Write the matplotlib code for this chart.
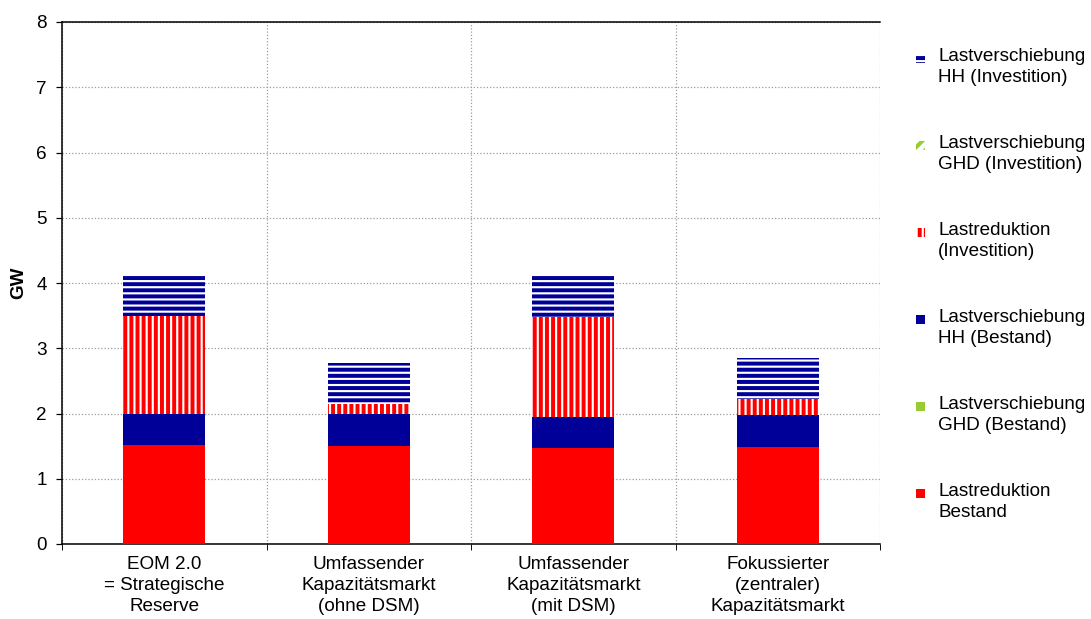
import matplotlib
matplotlib.use("Agg")
import matplotlib.pyplot as plt
from matplotlib.patches import Rectangle

plt.rcParams["font.family"] = ["Liberation Sans", "DejaVu Sans"]
plt.rcParams["hatch.linewidth"] = 2.6

categories = [
    "EOM 2.0\n= Strategische\nReserve",
    "Umfassender\nKapazitätsmarkt\n(ohne DSM)",
    "Umfassender\nKapazitätsmarkt\n(mit DSM)",
    "Fokussierter\n(zentraler)\nKapazitätsmarkt",
]

# GW per scenario, stacked bottom to top
lastreduktion_bestand = [1.51, 1.50, 1.47, 1.48]
lv_ghd_bestand = [0.0, 0.0, 0.0, 0.0]
lv_hh_bestand = [0.48, 0.49, 0.48, 0.49]
lastreduktion_invest = [1.51, 0.15, 1.53, 0.25]
lv_ghd_invest = [0.0, 0.0, 0.0, 0.0]
lv_hh_invest = [0.64, 0.64, 0.64, 0.63]

red = "#FF0000"
navy = "#000099"
green = "#99CC33"

series = [
    ("Lastreduktion\nBestand", lastreduktion_bestand, red, None),
    ("Lastverschiebung\nGHD (Bestand)", lv_ghd_bestand, green, None),
    ("Lastverschiebung\nHH (Bestand)", lv_hh_bestand, navy, None),
    ("Lastreduktion\n(Investition)", lastreduktion_invest, red, "|||"),
    ("Lastverschiebung\nGHD (Investition)", lv_ghd_invest, green, "///"),
    ("Lastverschiebung\nHH (Investition)", lv_hh_invest, navy, "---"),
]

W, H, DPI = 1091, 619, 110
fig = plt.figure(figsize=(W / DPI, H / DPI), dpi=DPI)
ax = fig.add_axes([62 / W, 1 - 544 / H, 818 / W, 522 / H])

x = list(range(len(categories)))
bottom = [0.0] * len(categories)
for label, vals, color, hatch in series:
    if hatch is None:
        ax.bar(x, vals, 0.4, bottom=bottom, color=color, linewidth=0, zorder=3)
    else:
        ax.bar(x, vals, 0.4, bottom=bottom, facecolor="white", edgecolor=color,
               hatch=hatch, linewidth=0, zorder=3)
    bottom = [b + v for b, v in zip(bottom, vals)]

fs = 12.4
ax.set_xlim(-0.5, 3.5)
ax.set_ylim(0, 8)
ax.set_yticks(range(0, 9))
ax.set_xticks(x)
ax.set_xticklabels(categories, fontsize=fs, linespacing=1.3)
ax.set_xticks([-0.5, 0.5, 1.5, 2.5, 3.5], minor=True)
ax.tick_params(axis="x", which="major", length=0, pad=8)
ax.tick_params(axis="x", which="minor", length=4, direction="out")
ax.tick_params(axis="y", length=4, direction="out", labelsize=fs, pad=6)
ax.grid(axis="y", which="major", color="#999999", linestyle=":", linewidth=0.8, zorder=0)
ax.grid(axis="x", which="minor", color="#999999", linestyle=":", linewidth=0.8, zorder=0)
ax.spines["right"].set_visible(False)
for s in ["left", "bottom", "top"]:
    ax.spines[s].set_linewidth(1.0)
ax.set_ylabel("GW", fontsize=fs, fontweight="bold", labelpad=6)


def px(xp, yp):
    return xp / W, 1 - yp / H


# legend drawn at the right, newest series on top
for i, (label, vals, color, hatch) in enumerate(reversed(series)):
    ytop = 48 + 87 * i
    rx, ry = px(916, ytop + 15)
    if hatch is None:
        rect = Rectangle((rx, ry), 9 / W, 9 / H, transform=fig.transFigure,
                         facecolor=color, linewidth=0)
    else:
        rect = Rectangle((rx, ry), 9 / W, 9 / H, transform=fig.transFigure,
                         facecolor="white", edgecolor=color, hatch=hatch, linewidth=0)
    fig.add_artist(rect)
    tx, ty = px(938, ytop)
    fig.text(tx, ty, label, fontsize=fs, va="top", ha="left", linespacing=1.3)

fig.savefig("out.png", dpi=DPI)
